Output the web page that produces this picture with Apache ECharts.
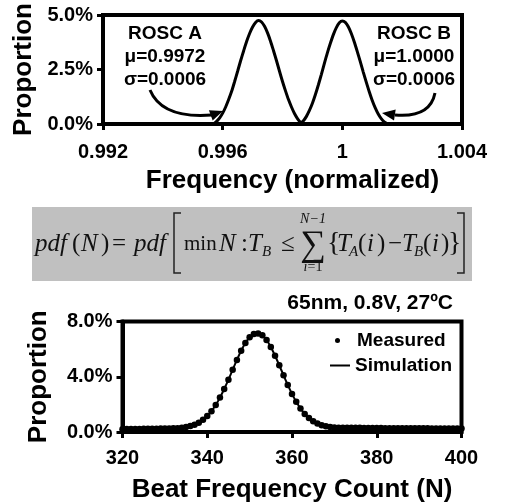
<!DOCTYPE html>
<html><head><meta charset="utf-8">
<script src="https://cdn.jsdelivr.net/npm/echarts@6/dist/echarts.min.js"></script>
<style>html,body{margin:0;padding:0;background:#fff}#c{width:509px;height:503px}</style>
</head><body><div id="c"></div>
<script>
// ---- Top chart: normalized frequency distributions (proportion, %) ----
const freqA = [0.9957,0.9958,0.9959,0.9960,0.9961,0.9962,0.9963,0.9964,0.9965,0.9966,0.9967,0.9968,0.9969,0.9970,0.9971,0.9972,0.9973,0.9974,0.9975,0.9976,0.9977,0.9978,0.9979,0.9980,0.9981,0.9982,0.9983,0.9984,0.9985,0.9986,0.9987];
const propA = [0.00,0.12,0.28,0.50,0.78,1.12,1.50,1.95,2.42,2.90,3.35,3.78,4.15,4.45,4.66,4.75,4.68,4.48,4.18,3.80,3.36,2.90,2.42,1.95,1.52,1.12,0.78,0.48,0.25,0.08,0.00];
const freqB = [0.9986,0.9987,0.9988,0.9989,0.9990,0.9991,0.9992,0.9993,0.9994,0.9995,0.9996,0.9997,0.9998,0.9999,1.0000,1.0001,1.0002,1.0003,1.0004,1.0005,1.0006,1.0007,1.0008,1.0009,1.0010,1.0011,1.0012,1.0013,1.0014,1.0015,1.0016];
const propB = [0.03,0.15,0.35,0.62,0.95,1.35,1.80,2.28,2.78,3.26,3.70,4.10,4.42,4.64,4.72,4.66,4.46,4.15,3.76,3.32,2.86,2.38,1.92,1.48,1.08,0.74,0.46,0.25,0.10,0.02,0.00];
const topXTicks = [0.992, 0.996, 1, 1.004];
const topYTicks = [0, 2.5, 5];

// ---- Bottom chart: beat frequency count distribution (proportion, %) ----
const beatCount = [320,321,322,323,324,325,326,327,328,329,330,331,332,333,334,335,336,337,338,339,340,341,342,343,344,345,346,347,348,349,350,351,352,353,354,355,356,357,358,359,360,361,362,363,364,365,366,367,368,369,370,371,372,373,374,375,376,377,378,379,380,381,382,383,384,385,386,387,388,389,390,391,392,393,394,395,396,397,398,399,400];
const measured = [0.20,0.21,0.21,0.22,0.22,0.23,0.23,0.24,0.24,0.25,
  0.26,0.26,0.27,0.28,0.31,0.36,0.43,0.53,0.67,0.88,
  1.15,1.51,1.95,2.49,3.11,3.79,4.51,5.22,5.88,6.44,
  6.86,7.10,7.14,7.01,6.66,6.15,5.52,4.83,4.11,3.41,
  2.76,2.19,1.71,1.31,1.01,0.78,0.61,0.49,0.41,0.36,
  0.33,0.31,0.31,0.30,0.30,0.30,0.30,0.29,0.29,0.29,
  0.29,0.29,0.28,0.28,0.28,0.28,0.28,0.27,0.27,0.27,
  0.27,0.27,0.27,0.26,0.26,0.26,0.26,0.26,0.25,0.25,0.25];
const simulation = [0.20,0.21,0.21,0.22,0.22,0.23,0.23,0.24,0.24,0.25,
  0.26,0.26,0.27,0.28,0.31,0.36,0.43,0.53,0.67,0.88,
  1.15,1.51,1.95,2.49,3.11,3.79,4.51,5.22,5.88,6.44,
  6.86,7.08,7.12,7.00,6.66,6.15,5.52,4.83,4.11,3.41,
  2.76,2.19,1.71,1.31,1.01,0.78,0.61,0.49,0.41,0.36,
  0.33,0.31,0.31,0.30,0.30,0.30,0.30,0.29,0.29,0.29,
  0.29,0.29,0.28,0.28,0.28,0.28,0.28,0.27,0.27,0.27,
  0.27,0.27,0.27,0.26,0.26,0.26,0.26,0.26,0.25,0.25,0.25];
const botXTicks = [320, 340, 360, 380, 400];
const botYTicks = [0, 4, 8];

const SANS = "'Liberation Sans', Arial, Helvetica, sans-serif";
const SERIF = "'Liberation Serif', 'Times New Roman', serif";
const INK = '#000';

function pct(v){ return v.toFixed(1) + '%'; }
function freqLabel(v){ const r = Math.round(v*1000)/1000; return r === 1 ? '1' : r.toFixed(3); }

const axisCommon = {
  axisLine: { show: true, onZero: false, lineStyle: { color: INK, width: 4 } },
  axisTick: { show: true, inside: false, length: 6, lineStyle: { color: INK, width: 3 } },
  splitLine: { show: false },
  axisLabel: { color: INK, fontFamily: SANS, fontWeight: 'bold', fontSize: 20 },
  nameTextStyle: { color: INK, fontFamily: SANS, fontWeight: 'bold', fontSize: 26 }
};
function ax(extra){
  const o = JSON.parse(JSON.stringify(axisCommon));
  for (const k in extra){
    if (o[k] && typeof o[k]==='object' && typeof extra[k]==='object' && !Array.isArray(extra[k])) Object.assign(o[k], extra[k]);
    else o[k] = extra[k];
  }
  return o;
}

// Formula pieces (decorative text)
function T(text, x, y, size, italic, align){
  return { type:'text', x:x, y:y, silent:true, style:{ text:text, fill:'#111', font:(italic?'italic ':'') + size + 'px ' + SERIF, textAlign: align||'left', textVerticalAlign:'middle' } };
}
const fy = 244;
const formula = [
  { type:'rect', shape:{ x:32, y:207, width:440, height:74 }, style:{ fill:'#c0c0c0' }, silent:true },
  T('pdf', 35, fy, 25, true), T('(', 72, fy, 25, false), T('N', 81, fy, 25, true), T(')', 101, fy, 25, false),
  T('=', 112, fy, 25, false), T('pdf', 134, fy, 25, true),
  { type:'polyline', shape:{ points:[[181,213],[174,213],[174,273],[181,273]] }, style:{ stroke:'#222', lineWidth:1.5, fill:null }, silent:true },
  T('min', 184, fy, 21, false), T('N', 219, fy, 25, true), T(':', 241, fy, 25, false),
  T('T', 248, fy, 25, true), T('B', 262, fy+8, 15, true), T('≤', 281, fy, 25, false),
  T('∑', 313, fy+2, 36, false, 'center'), T('N−1', 313, 219, 14, true, 'center'),
  { type:'text', x:313, y:267, silent:true, style:{ text:'{i|i}{n|=1}', textAlign:'center', textVerticalAlign:'middle', fill:'#111',
      rich:{ i:{ fontFamily:SERIF, fontStyle:'italic', fontSize:14, fill:'#111' }, n:{ fontFamily:SERIF, fontSize:14, fill:'#111' } } } },
  T('{', 327, fy, 28, false), T('T', 337, fy, 25, true), T('A', 349, fy+8, 15, true),
  T('(', 358, fy, 25, false), T('i', 367, fy, 25, true), T(')', 377, fy, 25, false),
  T('−', 388, fy, 25, false), T('T', 402, fy, 25, true), T('B', 414, fy+8, 15, true),
  T('(', 423, fy, 25, false), T('i', 432, fy, 25, true), T(')', 441, fy, 25, false), T('}', 448, fy, 28, false),
  { type:'polyline', shape:{ points:[[457,213],[464,213],[464,273],[457,273]] }, style:{ stroke:'#222', lineWidth:1.5, fill:null }, silent:true }
];

function L(text, x, y){
  return { type:'text', x:x, y:y, silent:true, style:{ text:text, fill:INK, font:'bold 19px ' + SANS, textAlign:'center', textVerticalAlign:'middle' } };
}
function arrowHead(tip, from){
  const dx = tip[0]-from[0], dy = tip[1]-from[1], d = Math.hypot(dx,dy);
  const ux = dx/d, uy = dy/d, nx = -uy, ny = ux;
  const bx = tip[0]-13*ux, by = tip[1]-13*uy;
  return { type:'polygon', silent:true, shape:{ points:[tip,[bx+5.5*nx,by+5.5*ny],[bx-5.5*nx,by-5.5*ny]] }, style:{ fill:INK } };
}
const annotations = [
  L('ROSC A', 165, 34), L('μ=0.9972', 165, 57), L('σ=0.0006', 165, 80),
  L('ROSC B', 414, 34), L('μ=1.0000', 414, 57), L('σ=0.0006', 414, 80),
  { type:'bezierCurve', silent:true, shape:{ x1:150, y1:90, cpx1:162, cpy1:119, x2:212, y2:115 }, style:{ stroke:INK, lineWidth:3, fill:null } },
  arrowHead([223,111],[212,115]),
  { type:'bezierCurve', silent:true, shape:{ x1:435, y1:93, cpx1:430, cpy1:118, x2:395, y2:115 }, style:{ stroke:INK, lineWidth:3, fill:null } },
  arrowHead([382,113],[395,115])
];

const chart = echarts.init(document.getElementById('c'), null, { renderer:'canvas' });
chart.setOption({
  animation: false,
  backgroundColor: '#fff',
  textStyle: { fontFamily: SANS },
  title: { text: '65nm, 0.8V, 27ºC', right: 56, top: 293, padding: 0,
    textStyle: { color: INK, fontFamily: SANS, fontWeight: 'bold', fontSize: 21 } },
  legend: [
    { data:[{ name:'Measured', icon:'circle' }], left: 335, top: 331, orient:'vertical', selectedMode:false, padding:0,
      itemWidth:5, itemHeight:5, itemStyle:{ color: INK },
      textStyle:{ color: INK, fontFamily: SANS, fontWeight:'bold', fontSize:19, padding:[0,0,0,12] } },
    { data:[{ name:'Simulation', icon:'rect' }], left: 330, top: 356, orient:'vertical', selectedMode:false, padding:0,
      itemWidth:20, itemHeight:2, itemStyle:{ color: INK },
      textStyle:{ color: INK, fontFamily: SANS, fontWeight:'bold', fontSize:19 } }
  ],
  grid: [
    { left:103, top:15, width:359, height:109, show:true, borderColor:INK, borderWidth:4, backgroundColor:'transparent', containLabel:false, outerBoundsMode:'none' },
    { left:122.5, top:321.5, width:339, height:110.5, show:true, borderColor:INK, borderWidth:4, backgroundColor:'transparent', containLabel:false, outerBoundsMode:'none' }
  ],
  xAxis: [
    ax({ type:'value', gridIndex:0, min:topXTicks[0], max:topXTicks[topXTicks.length-1], interval:0.004,
      name:'Frequency (normalized)', nameLocation:'middle', nameGap:44,
      nameTextStyle:{ padding:[0,0,0,20] },
      axisLabel:{ margin:18, formatter: freqLabel } }),
    ax({ type:'value', gridIndex:1, min:botXTicks[0], max:botXTicks[botXTicks.length-1], interval:20,
      name:'Beat Frequency Count (N)', nameLocation:'middle', nameGap:45,
      axisLabel:{ margin:16 } })
  ],
  yAxis: [
    ax({ type:'value', gridIndex:0, min:topYTicks[0], max:topYTicks[topYTicks.length-1], interval:2.5,
      name:'Proportion', nameLocation:'middle', nameGap:61,
      axisLabel:{ margin:10, formatter: pct } }),
    ax({ type:'value', gridIndex:1, min:botYTicks[0], max:botYTicks[botYTicks.length-1], interval:4,
      name:'Proportion', nameLocation:'middle', nameGap:71,
      axisLabel:{ margin:10, formatter: pct } })
  ],
  series: [
    { name:'ROSC A', type:'line', xAxisIndex:0, yAxisIndex:0, data: freqA.map((x,i)=>[x, propA[i]]),
      symbol:'none', smooth:0.3, lineStyle:{ color:INK, width:3 }, z:3 },
    { name:'ROSC B', type:'line', xAxisIndex:0, yAxisIndex:0, data: freqB.map((x,i)=>[x, propB[i]]),
      symbol:'none', smooth:0.3, lineStyle:{ color:INK, width:3 }, z:3 },
    { name:'Simulation', type:'line', xAxisIndex:1, yAxisIndex:1, data: beatCount.map((n,i)=>[n, simulation[i]]),
      symbol:'none', smooth:0.3, lineStyle:{ color:INK, width:2 }, itemStyle:{ color:INK }, z:3 },
    { name:'Measured', type:'scatter', xAxisIndex:1, yAxisIndex:1, data: beatCount.map((n,i)=>[n, measured[i]]),
      symbol:'circle', symbolSize:6.5, itemStyle:{ color:INK, opacity:1 }, z:4 }
  ],
  graphic: formula.concat(annotations)
});
</script>
</body></html>
